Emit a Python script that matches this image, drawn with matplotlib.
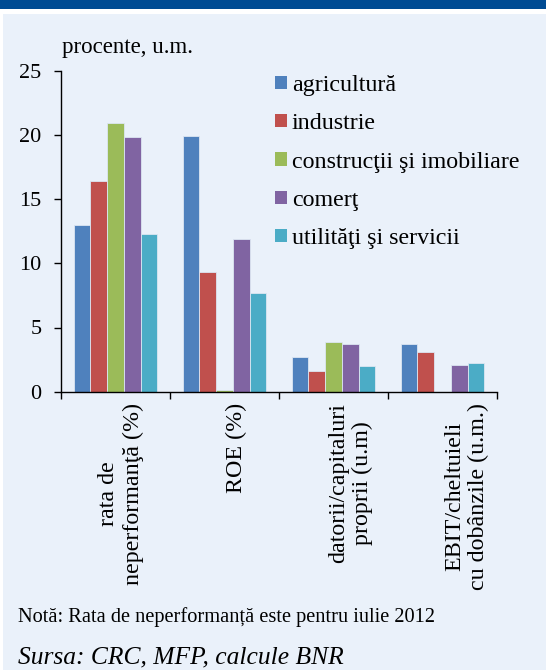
import matplotlib
matplotlib.use("Agg")
import matplotlib.pyplot as plt
from matplotlib.patches import Rectangle
import numpy as np

# ---- data ----
categories = ["rata de\nneperformanţă (%)", "ROE (%)",
              "datorii/capitaluri\nproprii (u.m)", "EBIT/cheltuieli\ncu dobânzile (u.m.)"]
series_names = ["agricultură", "industrie", "construcţii şi imobiliare", "comerţ",
                "utilităţi şi servicii"]
agricultura = [13.0, 19.9, 2.7, 3.7]
industrie = [16.4, 9.3, 1.6, 3.1]
constructii = [20.9, 0.1, 3.9, float("nan")]
comert = [19.8, 11.9, 3.7, 2.1]
utilitati = [12.3, 7.7, 2.0, 2.2]
yticks = [0, 5, 10, 15, 20, 25]
colors = ["#4F81BD", "#C0504D", "#9BBB59", "#8064A2", "#4BACC6"]

series = [agricultura, industrie, constructii, comert, utilitati]

plt.rcParams["font.family"] = ["Liberation Serif", "DejaVu Serif"]
FS_TICK = 16
FS_LAB = 17.3
FS_NOTE = 14.7

W, H = 546, 670
fig = plt.figure(figsize=(W / 100, H / 100), dpi=100, facecolor="white")

# header band and panel background
fig.patches.append(Rectangle((0, 1 - 9 / H), 1, 9 / H, transform=fig.transFigure,
                             facecolor="#004B93", edgecolor="none", zorder=-10))
fig.patches.append(Rectangle((3 / W, 0), 1, 1 - 14 / H, transform=fig.transFigure,
                             facecolor="#EAF1FA", edgecolor="none", zorder=-10))

ax = fig.add_axes([61 / W, (H - 391.7) / H, 436 / W, 321 / H])
ax.set_facecolor("none")
ax.set_zorder(5)

x = np.arange(len(categories))
bw = 0.154
handles = []
for k, (vals, name, col) in enumerate(zip(series, series_names, colors)):
    ax.bar(x + (k - 2) * bw, vals, width=bw, color=col, edgecolor="#DCE6F2",
           linewidth=0.6, zorder=2)
    handles.append(Rectangle((0, 0), 1, 1, facecolor=col, edgecolor="none", label=name))

ax.set_xlim(-0.5, len(categories) - 0.5)
ax.set_ylim(0, 25)
ax.set_yticks(yticks)
ax.set_yticklabels([str(v) for v in yticks], fontsize=FS_TICK)
ax.tick_params(axis="y", direction="out", length=5, width=1, pad=9)
ax.set_xticks(np.arange(len(categories) + 1) - 0.5)
ax.set_xticklabels([])
ax.tick_params(axis="x", direction="out", length=5, width=1)
for s in ["top", "right"]:
    ax.spines[s].set_visible(False)
for s in ["left", "bottom"]:
    ax.spines[s].set_linewidth(1)
    ax.spines[s].set_color("black")

# category labels (rotated)
label_shift = [0.05, 0.11, 0.16, 0.22]
for i, lab in enumerate(categories):
    ax.text(i + label_shift[i], -11 / 321, lab, transform=ax.get_xaxis_transform(),
            rotation=90, ha="center", va="top", multialignment="center",
            fontsize=FS_LAB, linespacing=1.18)

# legend
ax.legend(handles=handles, loc="upper left", bbox_to_anchor=(275 / W, 1 - 75 / H),
          bbox_transform=fig.transFigure, frameon=False, fontsize=FS_LAB,
          handlelength=0.48, handleheight=0.48, handletextpad=0.22,
          labelspacing=0.72, borderaxespad=0, borderpad=0)

fig.text(62 / W, 1 - 53 / H, "procente, u.m.", fontsize=16.5, va="baseline", ha="left")
fig.text(18 / W, 1 - 622 / H, "Notă: Rata de neperformanță este pentru iulie 2012",
         fontsize=FS_NOTE, va="baseline", ha="left")
fig.text(18 / W, 1 - 663 / H, "Sursa: CRC, MFP, calcule BNR", fontsize=18.4,
         style="italic", va="baseline", ha="left")

fig.savefig("out.png", dpi=100, facecolor=fig.get_facecolor())
